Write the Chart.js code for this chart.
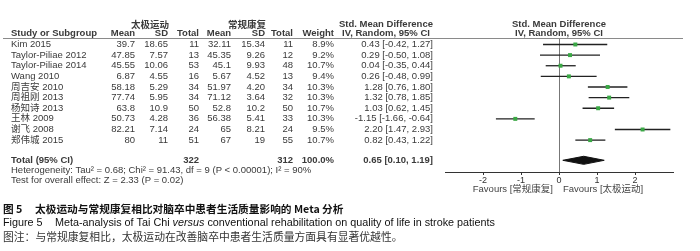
<!DOCTYPE html>
<html>
<head>
<meta charset="utf-8">
<script src="https://cdn.jsdelivr.net/npm/chart.js@4.4.0/dist/chart.umd.min.js"></script>
<style>
  html, body { margin: 0; padding: 0; background: #fff; }
</style>
</head>
<body>
<canvas id="forest" width="700" height="251"></canvas>
<script>
// ---- datos ----
const studies = ['Kim 2015', 'Taylor-Piliae 2012', 'Taylor-Piliae 2014', 'Wang 2010', '周吉安 2010',
                 '周祖刚 2013', '杨知诗 2013', '王林 2009', '谢飞 2008', '郑伟城 2015'];
const taiMean = ['39.7', '47.85', '45.55', '6.87', '58.18', '77.74', '63.8', '50.73', '82.21', '80'];
const taiSD = ['18.65', '7.57', '10.06', '4.55', '5.29', '5.95', '10.9', '4.28', '7.14', '11'];
const taiTotal = [11, 13, 53, 16, 34, 34, 50, 36, 24, 51];
const conMean = ['32.11', '45.35', '45.1', '5.67', '51.97', '71.12', '52.8', '56.38', '65', '67'];
const conSD = ['15.34', '9.26', '9.93', '4.52', '4.20', '3.64', '10.2', '5.41', '8.21', '19'];
const conTotal = [11, 12, 48, 13, 34, 32, 50, 33, 24, 55];
const weights = [8.9, 9.2, 10.7, 9.4, 10.3, 10.3, 10.7, 10.3, 9.5, 10.7];
const smd = [0.43, 0.29, 0.04, 0.26, 1.28, 1.32, 1.03, -1.15, 2.20, 0.82];
const ciLow = [-0.42, -0.50, -0.35, -0.48, 0.76, 0.78, 0.62, -1.66, 1.47, 0.43];
const ciHigh = [1.27, 1.08, 0.44, 0.99, 1.80, 1.85, 1.45, -0.64, 2.93, 1.22];

const totalTai = 322;
const totalCon = 312;
const totalSmd = 0.65;
const totalLow = 0.10;
const totalHigh = 1.19;

const xTicks = [-2, -1, 0, 1, 2];

const latin = '"Liberation Sans", Arial, "Noto Sans CJK SC", sans-serif';
const cjk = '"Noto Sans CJK SC", sans-serif';
const gris = '#3a3a3a';

// fila del total (debajo de los estudios)
const totalRow = 10.9;

// ---- texto de la tabla, usando la escala y del grafico ----
const tablaPlugin = {
    id: 'tabla',
    afterDraw(chart) {
        const ctx = chart.ctx;
        const yScale = chart.scales.y;
        ctx.save();
        ctx.textBaseline = 'middle';

        const txt = (s, x, y, align, font, color) => {
            ctx.font = font;
            ctx.textAlign = align;
            ctx.fillStyle = color || gris;
            ctx.fillText(s, x, y);
        };

        const normal = '9.5px ' + latin;
        const bold = 'bold 9.5px ' + latin;

        // cabeceras
        txt('太极运动', 150, 24.5, 'center', 'bold 9.5px ' + cjk);
        txt('常规康复', 247, 24.5, 'center', 'bold 9.5px ' + cjk);
        txt('Std. Mean Difference', 386, 24, 'center', bold);
        txt('Std. Mean Difference', 559, 24, 'center', bold);
        txt('Study or Subgroup', 11, 33.5, 'left', bold);
        txt('Mean', 135, 33.5, 'right', bold);
        txt('SD', 168, 33.5, 'right', bold);
        txt('Total', 199, 33.5, 'right', bold);
        txt('Mean', 231, 33.5, 'right', bold);
        txt('SD', 265, 33.5, 'right', bold);
        txt('Total', 293, 33.5, 'right', bold);
        txt('Weight', 334, 33.5, 'right', bold);
        txt('IV, Random, 95% CI', 386, 33.5, 'center', bold);
        txt('IV, Random, 95% CI', 559, 33.5, 'center', bold);

        // linea bajo la cabecera
        ctx.strokeStyle = '#8a8a8a';
        ctx.lineWidth = 1;
        ctx.beginPath();
        ctx.moveTo(3, 38.5);
        ctx.lineTo(683, 38.5);
        ctx.stroke();

        // filas de estudios
        studies.forEach((name, i) => {
            const y = yScale.getPixelForValue(i);
            txt(name, 11, y, 'left', normal);
            txt(taiMean[i], 135, y, 'right', normal);
            txt(taiSD[i], 168, y, 'right', normal);
            txt(String(taiTotal[i]), 199, y, 'right', normal);
            txt(conMean[i], 231, y, 'right', normal);
            txt(conSD[i], 265, y, 'right', normal);
            txt(String(conTotal[i]), 293, y, 'right', normal);
            txt(weights[i].toFixed(1) + '%', 334, y, 'right', normal);
            txt(smd[i].toFixed(2) + ' [' + ciLow[i].toFixed(2) + ', ' + ciHigh[i].toFixed(2) + ']', 433, y, 'right', normal);
        });

        // total
        const yt = yScale.getPixelForValue(totalRow);
        txt('Total (95% CI)', 11, yt, 'left', bold);
        txt(String(totalTai), 199, yt, 'right', bold);
        txt(String(totalCon), 293, yt, 'right', bold);
        txt('100.0%', 334, yt, 'right', bold);
        txt(totalSmd.toFixed(2) + ' [' + totalLow.toFixed(2) + ', ' + totalHigh.toFixed(2) + ']', 433, yt, 'right', bold);
        txt('Heterogeneity: Tau² = 0.68; Chi² = 91.43, df = 9 (P < 0.00001); I² = 90%', 11, 170.5, 'left', '9.5px ' + latin);
        txt('Test for overall effect: Z = 2.33 (P = 0.02)', 11, 180, 'left', '9.5px ' + latin);

        // etiquetas bajo el eje
        txt('Favours [常规康复]', 553, 189, 'right', normal, '#444');
        txt('Favours [太极运动]', 563, 189, 'left', normal, '#444');

        // pie de figura
        txt('图 5', 3, 208.5, 'left', 'bold 10.7px ' + cjk, '#111');
        txt('太极运动与常规康复相比对脑卒中患者生活质量影响的 Meta 分析', 35, 208.5, 'left', 'bold 10.7px ' + cjk, '#111');
        txt('Figure 5', 3, 223, 'left', '10.8px ' + latin, '#111');
        let x = 55;
        const partes = [['Meta-analysis of Tai Chi ', ''], ['versus', 'italic '], [' conventional rehabilitation on quality of life in stroke patients', '']];
        partes.forEach(([s, estilo]) => {
            ctx.font = estilo + '10.8px ' + latin;
            ctx.textAlign = 'left';
            ctx.fillStyle = '#111';
            ctx.fillText(s, x, 223);
            x += ctx.measureText(s).width;
        });
        txt('图注：与常规康复相比，太极运动在改善脑卒中患者生活质量方面具有显著优越性。', 3, 237, 'left', '10.8px ' + cjk, '#333');

        ctx.restore();
    }
};

// ---- datasets ----
const ciLines = studies.map((s, i) => ({
    type: 'line',
    data: [{ x: ciLow[i], y: i }, { x: ciHigh[i], y: i }],
    borderColor: '#222',
    borderWidth: 1.3,
    pointRadius: 0,
    order: 2
}));

const squares = {
    type: 'scatter',
    data: smd.map((v, i) => ({ x: v, y: i })),
    pointStyle: 'rect',
    pointRadius: 2.8,
    backgroundColor: '#3aa845',
    borderWidth: 0,
    order: 1
};

const diamond = {
    type: 'line',
    data: [
        { x: totalLow, y: totalRow },
        { x: totalSmd, y: totalRow - 0.38 },
        { x: totalHigh, y: totalRow },
        { x: totalSmd, y: totalRow + 0.38 },
        { x: totalLow, y: totalRow }
    ],
    fill: 'shape',
    backgroundColor: '#111',
    borderColor: '#111',
    borderWidth: 1,
    pointRadius: 0,
    tension: 0,
    order: 1
};

new Chart(document.getElementById('forest'), {
    type: 'scatter',
    data: { datasets: [...ciLines, squares, diamond] },
    options: {
        responsive: false,
        animation: false,
        devicePixelRatio: 1,
        layout: { padding: { left: 445, right: 27, top: 38, bottom: 0 } },
        plugins: {
            legend: { display: false },
            tooltip: { enabled: false }
        },
        scales: {
            x: {
                type: 'linear',
                min: -3,
                max: 3,
                afterFit: (scale) => { scale.height = 79; },
                ticks: {
                    stepSize: 1,
                    padding: 0,
                    color: '#333',
                    font: { size: 9, family: latin },
                    callback: (v) => xTicks.includes(v) ? String(v) : ''
                },
                grid: {
                    drawOnChartArea: true,
                    lineWidth: 1,
                    color: (c) => (c.tick && c.tick.value === 0) ? '#777' : 'rgba(0,0,0,0)',
                    tickColor: (c) => (c.tick && xTicks.includes(c.tick.value)) ? '#333' : 'rgba(0,0,0,0)',
                    tickLength: 3
                },
                border: { display: true, color: '#333', width: 1 }
            },
            y: {
                type: 'linear',
                display: false,
                reverse: true,
                min: -0.61,
                max: 12.0
            }
        }
    },
    plugins: [tablaPlugin]
});
</script>
</body>
</html>
